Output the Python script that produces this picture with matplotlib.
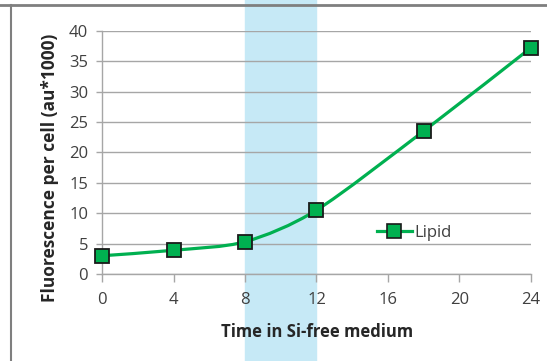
#!/usr/bin/env python3

import numpy as np
from matplotlib import pyplot as plt
from matplotlib.path import Path
from matplotlib.patches import PathPatch
from matplotlib.lines import Line2D

# data
hours = [0, 4, 8, 12, 18, 24]
lipid = [3.0, 3.9, 5.3, 10.5, 23.5, 37.2]
x_ticks = [0, 4, 8, 12, 16, 20, 24]
y_ticks = [0, 5, 10, 15, 20, 25, 30, 35, 40]
band = [8, 12]

GREEN = '#00b050'
GRID = '#a6a6a6'

plt.rcParams['font.family'] = ['Open Sans', 'DejaVu Sans']


def smooth_path(xs, ys, t=0.14):
    # excel-like smoothed line: bezier segments through the data points
    xs = np.asarray(xs, float)
    ys = np.asarray(ys, float)
    n = len(xs)
    verts = [(xs[0], ys[0])]
    codes = [Path.MOVETO]
    for i in range(n - 1):
        p0 = (xs[max(i - 1, 0)], ys[max(i - 1, 0)])
        p1 = (xs[i], ys[i])
        p2 = (xs[i + 1], ys[i + 1])
        p3 = (xs[min(i + 2, n - 1)], ys[min(i + 2, n - 1)])
        c1 = (p1[0] + (p2[0] - p0[0]) * t, p1[1] + (p2[1] - p0[1]) * t)
        c2 = (p2[0] - (p3[0] - p1[0]) * t, p2[1] - (p3[1] - p1[1]) * t)
        verts += [c1, c2, p2]
        codes += [Path.CURVE4] * 3
    return Path(verts, codes)


fig = plt.figure(figsize=(5.47, 3.61), dpi=100)
ax = fig.add_axes([0.1865, 0.241, 0.7842, 0.674])

# shaded period, runs over the whole figure height
ax.axvspan(band[0], band[1], ymin=-1, ymax=2, color='#c6e9f6', zorder=0, clip_on=False)

ax.set_xlim(0, 24)
ax.set_ylim(0, 40)
ax.set_xticks(x_ticks)
ax.set_yticks(y_ticks)
ax.yaxis.grid(True, color=GRID, linewidth=1)
ax.set_axisbelow(True)
ax.patch.set_alpha(0)

for s in ['top', 'right']:
    ax.spines[s].set_visible(False)
for s in ['left', 'bottom']:
    ax.spines[s].set_color(GRID)
    ax.spines[s].set_linewidth(1)
ax.tick_params(axis='both', colors=GRID, labelcolor='#404040', labelsize=12, width=1)
ax.tick_params(axis='x', length=6, pad=7)
ax.tick_params(axis='y', length=4, pad=6)

ax.add_patch(PathPatch(smooth_path(hours, lipid), facecolor='none', edgecolor=GREEN,
                       linewidth=2.3, zorder=3, clip_on=False))
ax.plot(hours, lipid, linestyle='none', marker='s', markersize=10.5, markerfacecolor=GREEN,
        markeredgecolor='#1a1a1a', markeredgewidth=1.3, zorder=4, clip_on=False)

handle = Line2D([], [], color=GREEN, linewidth=2.3, marker='s', markersize=9.5,
                markerfacecolor=GREEN, markeredgecolor='#1a1a1a', markeredgewidth=1.2)
leg = ax.legend([handle], ['Lipid'], loc='center left', bbox_to_anchor=(0.605, 0.17),
                frameon=False, fontsize=12, handlelength=2.1, handletextpad=0.15)
for txt in leg.get_texts():
    txt.set_color('#404040')

ax.set_xlabel('Time in Si-free medium', fontsize=12, fontweight='bold', color='#262626', va='center')
ax.xaxis.set_label_coords(0.501, -0.238)
ax.set_ylabel('Fluorescence per cell (au*1000)', fontsize=12.5, fontweight='bold', color='#262626', va='center')
ax.yaxis.set_label_coords(-0.122, 0.436)

# frame lines of the cropped chart area
fig.add_artist(Line2D([0, 1], [1 - 5 / 361, 1 - 5 / 361], color='#7f7f7f', linewidth=2, transform=fig.transFigure))
fig.add_artist(Line2D([11 / 547, 11 / 547], [0, 1 - 5 / 361], color='#7f7f7f', linewidth=1.5, transform=fig.transFigure))

fig.savefig('out.png', dpi=100)
